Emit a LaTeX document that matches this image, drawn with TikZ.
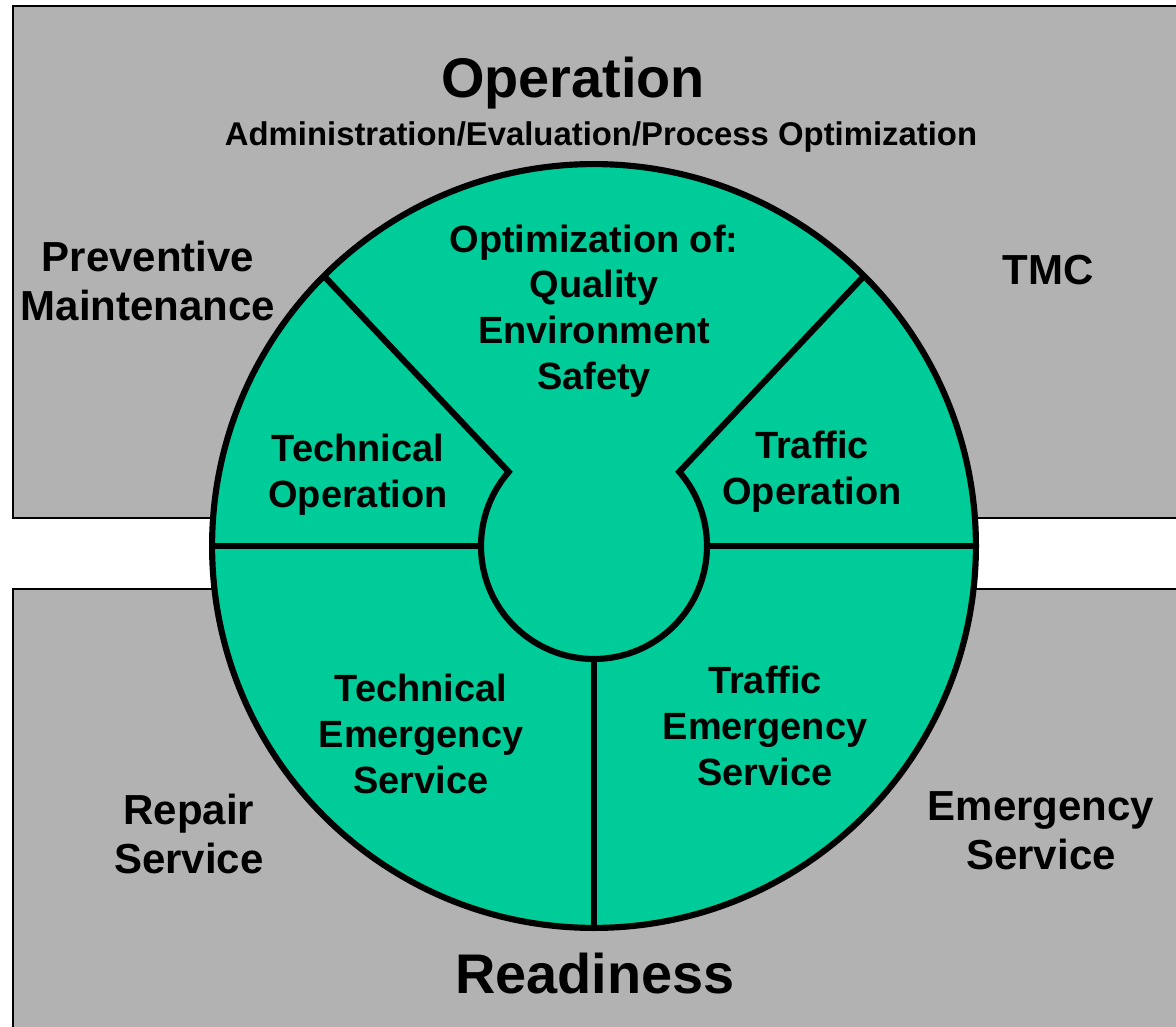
\documentclass[tikz,border=0pt]{standalone}
\usepackage{fontspec}
\setmainfont{Liberation Sans}
\usetikzlibrary{positioning}
\definecolor{panelgray}{RGB}{178,178,178}
\definecolor{wheelgreen}{RGB}{0,204,153}

\begin{document}
\begin{tikzpicture}[x=0.02cm, y=0.02cm,
    every node/.style = {align=center, inner sep=0pt},
    panel/.style = {fill=panelgray, draw=black, line width=1.7pt},
    wheelbody/.style = {circle, draw=black, fill=wheelgreen, line width=3.5pt, outer sep=0pt},
    spoke/.style = {draw=black, line width=3.5pt},
    titletext/.style = {font=\bfseries\fontsize{31.8}{38}\selectfont},
    subtext/.style = {font=\bfseries\fontsize{18.7}{22}\selectfont},
    sidetext/.style = {font=\bfseries\fontsize{23.9}{27.8}\selectfont},
    wheeltext/.style = {font=\bfseries\fontsize{21.6}{26}\selectfont}
  ]
  \useasboundingbox (0,0) rectangle (1176,-1027);
  \clip (0,0) rectangle (1176,-1027);

  % the two fields
  \draw[panel] (13,-6) rectangle (1200,-518);
  \draw[panel] (13,-589) rectangle (1200,-1050);

  % the wheel
  \node[wheelbody, minimum size=15.28cm] (wheel) at (594,-546) {};
  \coordinate (hub) at (594,-546);
  \path (hub) ++(139:113) coordinate (gapL);
  \path (hub) ++(180:113) coordinate (hubW);
  \path (hub) ++(0:113) coordinate (hubE);
  \path (hub) ++(270:113) coordinate (hubS);
  \draw[spoke] (wheel.135) -- (gapL) arc[start angle=139, end angle=401, radius=113] -- (wheel.45);
  \draw[spoke] (wheel.west) -- (hubW);
  \draw[spoke] (wheel.east) -- (hubE);
  \draw[spoke] (hubS) -- (wheel.south);

  % labels
  \node[titletext, anchor=base] (operation) at (573,-98) {Operation};
  \node[subtext, anchor=base] (tasks) at (601,-146) {Administration/Evaluation/Process Optimization};
  \node[sidetext] (prevent) at (148,-281) {Preventive\\Maintenance};
  \node[sidetext] (tmc) at (1048,-270) {TMC};
  \node[wheeltext] (optim) at (594,-311) {Optimization of:\\Quality\\Environment\\Safety};
  \node[wheeltext] (techop) at (358,-475) {Technical\\Operation};
  \node[wheeltext] (trafop) at (812,-472) {Traffic\\Operation};
  \node[wheeltext] (techem) at (421,-734) {Technical\\Emergency\\Service};
  \node[wheeltext] (trafem) at (765,-726) {Traffic\\Emergency\\Service};
  \node[sidetext] (repair) at (189,-834) {Repair\\Service};
  \node[sidetext] (emserv) at (1041,-831) {Emergency\\Service};
  \node[titletext, anchor=base] (ready) at (595,-993) {Readiness};
\end{tikzpicture}
\end{document}
